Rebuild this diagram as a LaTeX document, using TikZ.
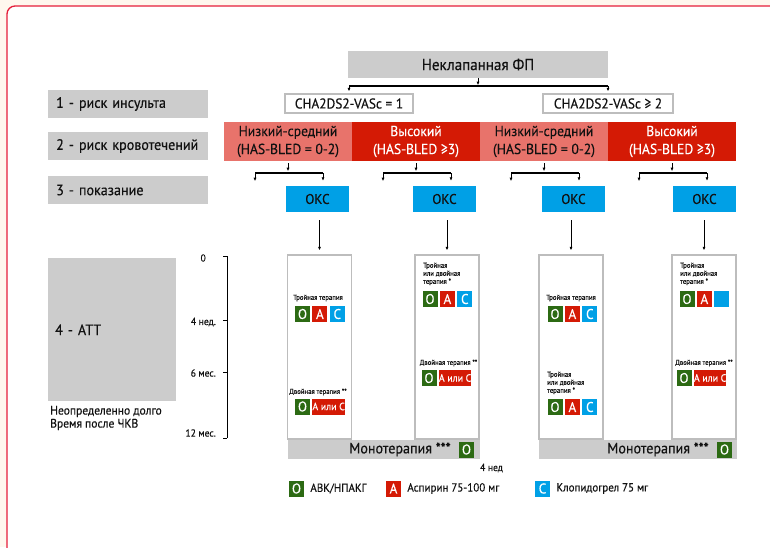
\documentclass[tikz,border=0pt]{standalone}
\usepackage{fontspec}
\setmainfont{PT Sans}[FakeStretch=0.94,FakeBold=0.3]
\usetikzlibrary{arrows.meta,positioning}
\definecolor{ink}{HTML}{111111}
\definecolor{fpgrey}{HTML}{CCCCCC}
\definecolor{edgegrey}{HTML}{BDBDBD}
\definecolor{lowrisk}{HTML}{E8736B}
\definecolor{highrisk}{HTML}{D41A05}
\definecolor{okscol}{HTML}{00A0E6}
\definecolor{ogreen}{HTML}{2C6A13}
\definecolor{framered}{HTML}{E51E3A}
\definecolor{paper}{HTML}{FFF7EE}
\begin{document}
\begin{tikzpicture}[x=1pt,y=-1pt,font=\fontsize{16}{17}\selectfont,text=ink,
  greybox/.style={fill=fpgrey,inner sep=0pt},
  lbl/.style={greybox,anchor=west,text width=144,inner xsep=8,minimum height=28},
  chabox/.style={draw=edgegrey,line width=1.2pt,fill=white,inner sep=0pt,minimum height=19,font=\fontsize{14.2}{15}\selectfont},
  risk/.style={inner sep=0pt,minimum width=128,minimum height=39,align=center,font=\fontsize{14.5}{18}\selectfont},
  oks/.style={fill=okscol,inner sep=0pt,minimum width=63,minimum height=26,font=\fontsize{14}{15}\selectfont},
  therapy/.style={draw=edgegrey,line width=1.2pt,fill=white,minimum width=64,minimum height=184,inner sep=0pt},
  drug/.style={inner sep=0pt,minimum width=15,minimum height=16,text=white,font=\fontsize{14}{14}\selectfont},
  dO/.style={drug,fill=ogreen},dA/.style={drug,fill=highrisk},dC/.style={drug,fill=okscol},
  acombo/.style={dA,minimum width=32,font=\fontsize{10.5}{11}\selectfont},
  tiny/.style={font=\fontsize{7.2}{8}\selectfont,inner sep=0pt,align=left},
  legend/.style={inner sep=0pt,font=\fontsize{11.7}{12}\selectfont},
  arr/.style={-{Latex[length=3.5pt,width=3pt]},line width=0.7pt},
  brace/.style={line width=1.5pt}]
\useasboundingbox (0,0) rectangle (770,547);
\clip (0,0) rectangle (770,547);
\fill[paper] (0,0) rectangle (770,547);
\draw[framered,line width=1.3pt,fill=white,rounded corners=8] (7,6) rectangle (790,570);
% row labels
\node[lbl,font=\fontsize{15}{17}\selectfont] (r1) at (48,104) {1 - риск инсульта};
\node[lbl,font=\fontsize{15}{17}\selectfont] (r2) at (48,146) {2 - риск кровотечений};
\node[lbl,font=\fontsize{15}{17}\selectfont] (r3) at (48,190) {3 - показание};
\node[greybox,anchor=north west,text width=114,inner xsep=7,minimum height=143,font=\fontsize{15}{17}\selectfont] (r4) at (48,258) {4 - АТТ};
\node[anchor=west,align=left,inner sep=0pt,font=\fontsize{12.3}{13}\selectfont] (later) at (50,418) {Неопределенно долго\\Время после ЧКВ};
% stroke risk
\node[greybox,minimum width=260,minimum height=27] (fp) at (478,64.5) {Неклапанная ФП};
\node[chabox,minimum width=128] (chaL) at (349,103.5) {CHA2DS2-VASc = 1};
\node[chabox,minimum width=130] (chaR) at (608,103.5) {CHA2DS2-VASc ≥ 2};
\draw[arr,shorten >=1pt] (fp.south) -- ++(0,8) coordinate (fpj);
\draw[brace] (chaL.north|-fpj) -- (chaR.north|-fpj);
\foreach \c in {chaL,chaR} \draw[arr,shorten >=2pt] (\c.north|-fpj) -- (\c.north);
% bleeding risk
\foreach \i/\x/\c/\t/\n/\s in {1/288/lowrisk/ink/Низкий-средний/= 0-2,2/416/highrisk/white/Высокий/≥3,3/544/lowrisk/ink/Низкий-средний/= 0-2,4/672/highrisk/white/Высокий/≥3}
  \node[risk,fill=\c,text=\t] (risk\i) at (\x,141.5) {\n\\(HAS-BLED \s)};
% indication and therapy columns
\foreach \i/\ox/\tx in {1/317.5/319.5,2/444.5/447,3/573.5/571,4/704.5/704}{
  \node[oks] (oks\i) at (\ox,199) {ОКС};
  \node[therapy] (tr\i) at (\tx,347) {};
  \draw[arr,shorten <=8pt,shorten >=4pt] (tr\i.north|-oks\i.south) -- (tr\i.north);
  \draw[arr] ([yshift=-2pt]risk\i.south) -- ++(0,8);
  \path (risk\i.south) ++(-33,12) coordinate (bl\i) ++(68,0) coordinate (br\i);
  \draw[brace] (bl\i) -- (br\i);
  \draw[arr] (bl\i) -- ++(0,8);
  \draw[arr,shorten >=5pt] (br\i) -- (br\i|-oks\i.north);
}
% time axis
\coordinate (t0) at (227,256);
\coordinate (t3) at (227,438);
\draw[line width=1pt] (t0) -- (t3);
\foreach \y/\lx/\ly/\s in {256/206/258/0,320/216/322/4 нед.,372/216/373/6 мес.,438/216/433/12 мес.}{
  \draw[line width=1pt] (223,\y) -- (227,\y);
  \node[anchor=east,inner sep=0pt,font=\fontsize{10.2}{12}\selectfont] (tk\y) at (\lx,\ly) {\s};
}
% column 1
\node[tiny] (tt1) at (318,298) {Тройная терапия};
\node[dO] (o1) at (302.5,314) {О};
\node[dA,right=2pt of o1] (a1) {А};
\node[dC,right=2pt of a1] (c1) {С};
\node[tiny] (dt1) at (318,392) {Двойная терапия **};
\node[dO] (o1b) at (302.5,406.5) {О};
\node[acombo,right=2pt of o1b] (ac1) {А или С};
% column 2
\node[tiny,anchor=north west] (tt2) at (423,262.5) {Тройная\\или двойная\\терапия *};
\node[dO] (o2) at (430,299) {О};
\node[dA,right=2pt of o2] (a2) {А};
\node[dC,right=2pt of a2] (c2) {С};
\node[tiny] (dt2) at (448.5,363) {Двойная терапия **};
\node[dO] (o2b) at (429,378) {О};
\node[acombo,right=2pt of o2b] (ac2) {А или С};
% column 3
\node[tiny] (tt3) at (571,298) {Тройная терапия};
\node[dO] (o3) at (555,314) {О};
\node[dA,right=2pt of o3] (a3) {А};
\node[dC,right=2pt of a3] (c3) {С};
\node[tiny,anchor=north west] (tt3b) at (547,371.5) {Тройная\\или двойная\\терапия *};
\node[dO] (o3b) at (555,407) {О};
\node[dA,right=2pt of o3b] (a3b) {А};
\node[dC,right=2pt of a3b] (c3b) {С};
% column 4
\node[tiny,anchor=north west] (tt4) at (680,262.5) {Тройная\\или двойная\\терапия *};
\node[dO] (o4) at (687,299) {О};
\node[dA,right=2pt of o4] (a4) {А};
\node[dC,right=2pt of a4] (c4) {};
\node[tiny] (dt4) at (704,363) {Двойная терапия **};
\node[dO] (o4b) at (684,378) {О};
\node[acombo,right=2pt of o4b] (ac4) {А или С};
% monotherapy
\node[greybox,minimum width=192,minimum height=19] (mono1) at (384,449.5) {};
\node[greybox,minimum width=198,minimum height=19] (mono2) at (638,449.5) {};
\node[dO,anchor=east] (mo1) at ([xshift=-6pt]mono1.east) {О};
\node[dO,anchor=east] (mo2) at ([xshift=-5pt]mono2.east) {О};
\node[left=8pt of mo1,inner sep=0pt,font=\fontsize{15}{16}\selectfont] (mt1) {Монотерапия ***};
\node[left=8pt of mo2,inner sep=0pt,font=\fontsize{15}{16}\selectfont] (mt2) {Монотерапия ***};
\node[inner sep=0pt,font=\fontsize{10.2}{12}\selectfont] (wk) at (491.5,468) {4 нед};
% legend
\node[dO] (lgO) at (296.5,488.5) {О};
\node[legend,right=6pt of lgO] (lgOt) {АВК/НПАКГ};
\node[dA] (lgA) at (393.5,488.5) {А};
\node[legend,right=6pt of lgA] (lgAt) {Аспирин 75-100 мг};
\node[dC] (lgC) at (542.5,488.5) {С};
\node[legend,right=6pt of lgC] (lgCt) {Клопидогрел 75 мг};
\end{tikzpicture}
\end{document}
